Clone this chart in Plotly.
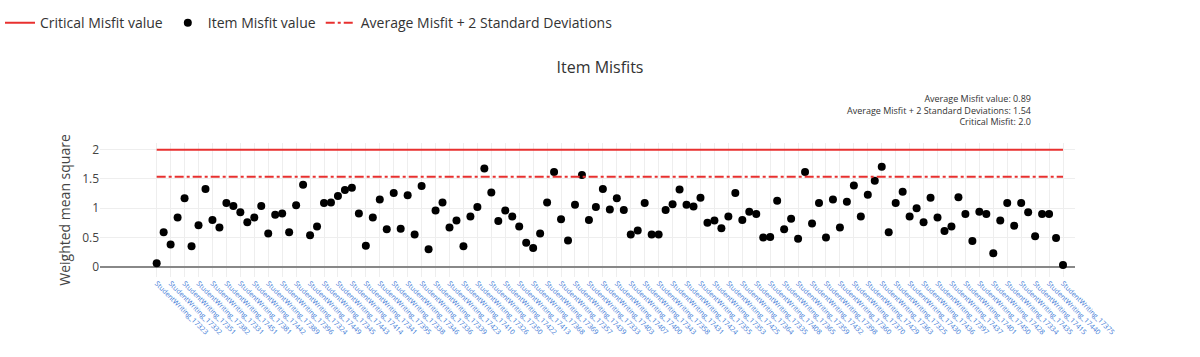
import plotly.graph_objects as go

# Tick labels shown (every other category) and hidden in-between categories
labeled_ids = [17323, 17332, 17351, 17382, 17331, 17451, 17381, 17442, 17389, 17396,
               17324, 17449, 17345, 17443, 17414, 17341, 17395, 17338, 17346, 17336,
               17339, 17423, 17410, 17326, 17350, 17422, 17413, 17368, 17369, 17357,
               17439, 17333, 17403, 17407, 17400, 17343, 17358, 17431, 17424, 17355,
               17353, 17425, 17364, 17335, 17408, 17365, 17359, 17432, 17398, 17360,
               17370, 17429, 17363, 17325, 17430, 17436, 17397, 17437, 17401, 17450,
               17428, 17334, 17435, 17415, 17440, 17375]
hidden_ids = [17384, 17340, 17372, 17417, 17328, 17444, 17390, 17352, 17409, 17376,
              17447, 17329, 17421, 17361, 17385, 17342, 17433, 17366, 17405, 17377,
              17354, 17446, 17327, 17391, 17419, 17362, 17378, 17404, 17344, 17426,
              17386, 17356, 17412, 17371, 17438, 17337, 17392, 17330, 17418, 17380,
              17367, 17445, 17383, 17402, 17347, 17373, 17427, 17387, 17411, 17348,
              17393, 17434, 17379, 17416, 17349, 17399, 17441, 17374, 17406, 17388,
              17420, 17448, 17394, 17452, 17322]

students = []
for i in range(131):
    if i % 2 == 0:
        students.append("StudentWriting_%d" % labeled_ids[i // 2])
    else:
        students.append("StudentWriting_%d" % hidden_ids[i // 2])

misfit = [0.06, 0.59, 0.38, 0.84, 1.17, 0.35, 0.71, 1.33, 0.80, 0.67,
          1.09, 1.04, 0.93, 0.76, 0.84, 1.04, 0.57, 0.89, 0.91, 0.59,
          1.05, 1.40, 0.54, 0.69, 1.09, 1.10, 1.21, 1.31, 1.35, 0.91,
          0.36, 0.84, 1.15, 0.64, 1.26, 0.65, 1.22, 0.55, 1.38, 0.30,
          0.96, 1.10, 0.67, 0.79, 0.35, 0.86, 1.02, 1.68, 1.27, 0.78,
          0.96, 0.86, 0.69, 0.41, 0.32, 0.57, 1.10, 1.62, 0.81, 0.45,
          1.06, 1.57, 0.80, 1.02, 1.33, 0.98, 1.17, 0.97, 0.55, 0.62,
          1.09, 0.55, 0.55, 0.97, 1.07, 1.32, 1.06, 1.03, 1.18, 0.75,
          0.79, 0.66, 0.86, 1.26, 0.80, 0.94, 0.90, 0.50, 0.51, 1.13,
          0.64, 0.82, 0.48, 1.62, 0.74, 1.09, 0.50, 1.15, 0.67, 1.11,
          1.39, 0.86, 1.23, 1.47, 1.71, 0.59, 1.09, 1.28, 0.86, 1.00,
          0.76, 1.18, 0.84, 0.61, 0.69, 1.19, 0.90, 0.44, 0.94, 0.90,
          0.23, 0.79, 1.09, 0.70, 1.09, 0.93, 0.52, 0.90, 0.90, 0.49,
          0.03]

avg_misfit = 0.89
avg_plus_2sd = 1.54
critical = 2.0

RED = "#e8302f"

fig = go.Figure()
fig.add_trace(go.Scatter(x=students, y=[critical] * len(students), mode="lines",
                         name="Critical Misfit value",
                         line=dict(color=RED, width=2)))
fig.add_trace(go.Scatter(x=students, y=misfit, mode="markers",
                         name="Item Misfit value",
                         marker=dict(color="black", size=8)))
fig.add_trace(go.Scatter(x=students, y=[avg_plus_2sd] * len(students), mode="lines",
                         name="Average Misfit + 2 Standard Deviations",
                         line=dict(color=RED, width=2, dash="dashdot")))

fig.update_layout(
    width=1200, height=357,
    margin=dict(l=100, r=125, t=143, b=80),
    paper_bgcolor="white", plot_bgcolor="white",
    font=dict(family="Open Sans", color="#444"),
    title=dict(text="Item Misfits", x=0.5, xref="container", xanchor="center",
               y=1 - 67 / 357, yref="container", yanchor="middle",
               font=dict(size=16, color="#333")),
    legend=dict(orientation="h", xref="container", yref="container",
                x=0, y=0.98, xanchor="left", yanchor="top",
                font=dict(size=14, color="#333")),
    showlegend=True,
)

fig.add_annotation(
    text="Average Misfit value: %.2f<br>Average Misfit + 2 Standard Deviations: %.2f<br>Critical Misfit: %.1f"
         % (avg_misfit, avg_plus_2sd, critical),
    xref="paper", yref="paper", x=0.957, y=1.1, xanchor="right", yanchor="bottom",
    align="right", showarrow=False, font=dict(size=9, color="#333"))

fig.update_xaxes(type="category", tickangle=45, tickmode="linear", tick0=0, dtick=2,
                 tickfont=dict(size=7, color="#3a78d6"), automargin=False,
                 showgrid=True, gridcolor="#eeeeee", range=[-8.13, 131.72],
                 showline=False, zeroline=False)
fig.update_yaxes(range=[-0.175, 2.115], dtick=0.5, tickfont=dict(size=12, color="#444"),
                 showgrid=True, gridcolor="#eeeeee", automargin=False,
                 zeroline=True, zerolinecolor="#888888", zerolinewidth=2,
                 title=dict(text="Weighted mean square", standoff=8,
                            font=dict(size=14, color="#444")))

fig.write_html("out.html", config={"displayModeBar": False},
               post_script="document.body.style.margin='0px';")
